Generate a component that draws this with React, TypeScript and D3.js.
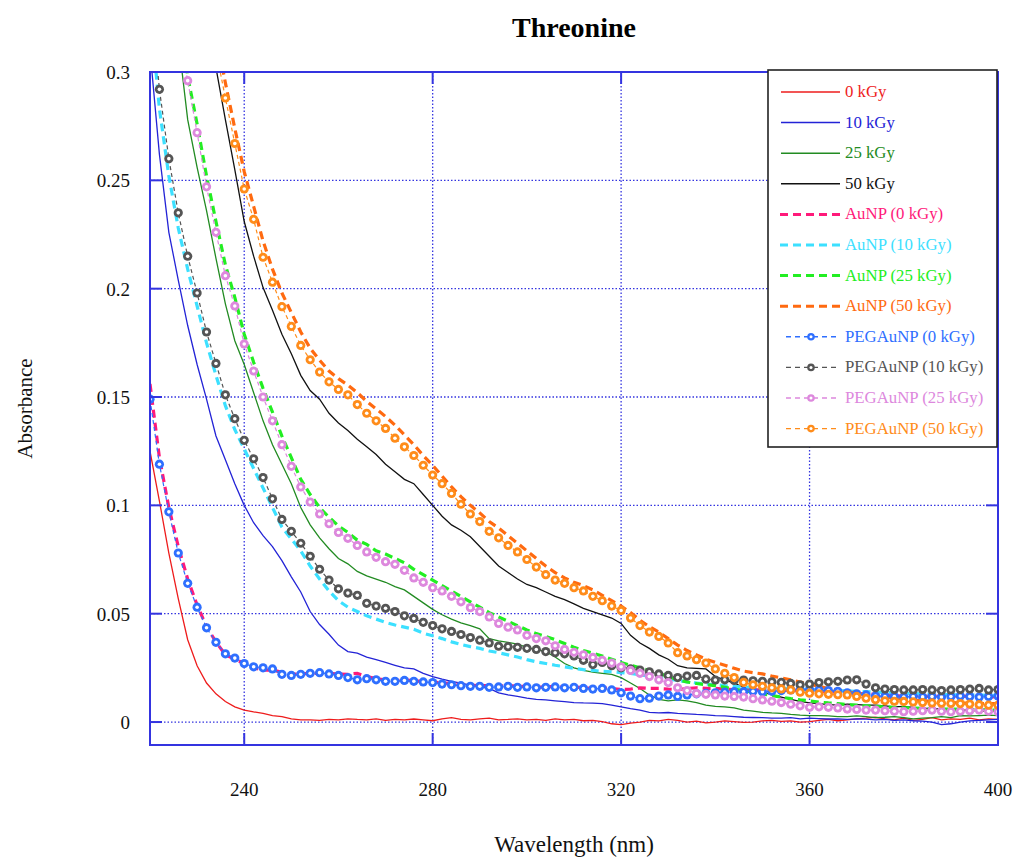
import React from 'react';
import * as d3 from 'd3';

// Wavelength grid (nm), 2 nm steps 220..400
const wavelengths: number[] = d3.range(220, 401, 2);

const kGy0 = [
  0.125,0.102,0.078,0.057,0.038,0.026,0.018,0.013,0.0095,0.007,
  0.0055,0.0047,0.004,0.003,0.0025,0.0015,0.001,0.001,0.0008,0.0012,
  0.001,0.0015,0.0012,0.001,0.0015,0.0008,0.0012,0.001,0.0014,0.001,
  0.0006,0.0015,0.002,0.0012,0.001,0.0015,0.0018,0.001,0.0012,0.0015,
  0.001,0.0012,0.0008,0.0015,0.001,0.0012,0.0006,0.0008,0.0002,-0.0008,
  -0.0012,-0.0005,0,0.0008,0.0005,0.0012,0.0008,0,0.0004,-0.0004,
  0,0.0005,0.0002,-0.0002,0,0.0005,0.0008,0.0003,0.0005,0,
  0.0002,0.0008,0.0012,0.0006,0.001,0.0015,0.0018,0.0022,0.0015,0.001,
  0.0018,0.0008,0.0012,0.002,0.001,0.0015,0.0012,0.0018,0.001,0.0015,
  0.0012];

const kGy10 = [
  0.31,0.262,0.226,0.204,0.183,0.165,0.149,0.132,0.121,0.110,
  0.100,0.092,0.086,0.081,0.0745,0.067,0.060,0.051,0.045,0.0405,
  0.0355,0.0325,0.0318,0.030,0.0288,0.0275,0.0262,0.025,0.0245,0.0225,
  0.021,0.0198,0.0188,0.018,0.017,0.0162,0.0155,0.0135,0.0125,0.0118,
  0.011,0.0105,0.0102,0.0098,0.0094,0.009,0.0088,0.0087,0.0085,0.0078,
  0.007,0.0062,0.0055,0.0045,0.0042,0.0044,0.004,0.0038,0.0035,0.0033,
  0.003,0.0028,0.0025,0.0022,0.0021,0.002,0.0018,0.0018,0.002,0.0015,
  0.0018,0.0016,0.0014,0.0015,0.0012,0.0015,0.0013,0.001,0.0012,0.0008,
  0.001,0.0006,0.0004,0,-0.0012,-0.0008,0,0.0005,0.0008,0.001,
  0.0012];

const kGy25 = [
  0.40,0.37,0.34,0.315,0.278,0.256,0.236,0.214,0.193,0.176,
  0.165,0.152,0.139,0.128,0.119,0.110,0.099,0.091,0.085,0.080,
  0.0755,0.073,0.0695,0.0675,0.066,0.0645,0.0625,0.061,0.058,0.055,
  0.052,0.0495,0.0475,0.0458,0.0445,0.043,0.0385,0.0375,0.0368,0.036,
  0.0345,0.0335,0.0325,0.030,0.027,0.025,0.0238,0.023,0.0225,0.022,
  0.0205,0.018,0.0155,0.0125,0.0105,0.0098,0.0102,0.0098,0.009,0.0078,
  0.0072,0.007,0.0065,0.0055,0.005,0.0045,0.0042,0.004,0.0035,0.0032,
  0.003,0.003,0.0028,0.0025,0.0025,0.0028,0.0025,0.002,0.0022,0.0025,
  0.002,0.0015,0.0018,0.002,0.0025,0.002,0.003,0.0028,0.003,0.0032,
  0.003];

const kGy50 = [
  0.56,0.52,0.48,0.44,0.40,0.365,0.33,0.302,0.278,0.255,
  0.231,0.215,0.2005,0.190,0.179,0.170,0.160,0.153,0.149,0.1425,
  0.138,0.1345,0.1305,0.127,0.1235,0.119,0.1155,0.112,0.110,0.105,
  0.100,0.095,0.091,0.0885,0.0855,0.081,0.0765,0.072,0.069,0.066,
  0.0635,0.062,0.060,0.058,0.0565,0.0545,0.0525,0.051,0.0495,0.048,
  0.0455,0.040,0.0365,0.034,0.031,0.029,0.026,0.025,0.0248,0.0245,
  0.021,0.0195,0.018,0.016,0.015,0.014,0.0125,0.0115,0.0105,0.0095,
  0.0088,0.0085,0.008,0.0078,0.0082,0.008,0.0078,0.0078,0.0075,0.007,
  0.0072,0.0068,0.0065,0.006,0.0062,0.0058,0.0055,0.0055,0.005,0.0052,
  0.005];

const auNP0 = [
  0.156,0.122,0.099,0.081,0.066,0.054,0.044,0.037,0.031,0.029,
  0.027,0.025,0.024,0.024,0.023,0.022,0.0222,0.0225,0.0225,0.0225,
  0.0222,0.022,0.0225,0.021,0.020,0.0195,0.019,0.0195,0.019,0.0188,
  0.0185,0.018,0.0178,0.0172,0.017,0.0168,0.0168,0.0165,0.0168,0.0165,
  0.0165,0.016,0.0162,0.0165,0.016,0.0162,0.0158,0.0155,0.0158,0.0155,
  0.015,0.0152,0.0158,0.0155,0.0155,0.0152,0.015,0.0155,0.0158,0.0155,
  0.0155,0.0152,0.015,0.015,0.0148,0.0148,0.0145,0.0145,0.0148,0.0145,
  0.0145,0.0142,0.014,0.0138,0.0135,0.0132,0.013,0.0128,0.0125,0.0122,
  0.012,0.0122,0.012,0.0118,0.012,0.0122,0.0118,0.012,0.0118,0.0115,
  0.0118];

const auNP10 = [
  0.33,0.283,0.252,0.228,0.209,0.192,0.175,0.160,0.146,0.135,
  0.126,0.117,0.108,0.099,0.09,0.0845,0.079,0.072,0.066,0.0605,
  0.056,0.053,0.051,0.049,0.0475,0.046,0.0448,0.0438,0.0428,0.041,
  0.0398,0.0385,0.037,0.0358,0.0348,0.034,0.0328,0.032,0.031,0.030,
  0.0288,0.0278,0.027,0.0262,0.0255,0.0248,0.0242,0.0238,0.0234,0.0232,
  0.0228,0.0224,0.0218,0.0212,0.0205,0.0198,0.0192,0.0185,0.018,0.0175,
  0.0172,0.0168,0.0165,0.0162,0.016,0.0158,0.0157,0.0155,0.0155,0.0152,
  0.015,0.0148,0.0146,0.0145,0.0143,0.0142,0.014,0.0138,0.0136,0.0135,
  0.0133,0.0132,0.013,0.0128,0.0127,0.0126,0.0125,0.0124,0.0124,0.0123,
  0.0122];

const auNP25 = [
  0.44,0.40,0.365,0.33,0.298,0.276,0.252,0.231,0.211,0.196,
  0.179,0.166,0.154,0.143,0.132,0.122,0.112,0.105,0.099,0.0945,
  0.0905,0.0875,0.084,0.082,0.079,0.0775,0.0755,0.0735,0.0705,0.068,
  0.0655,0.063,0.0605,0.058,0.0555,0.053,0.0505,0.0485,0.0465,0.0445,
  0.0425,0.0408,0.0395,0.038,0.0362,0.0345,0.033,0.0318,0.0305,0.029,
  0.0275,0.0262,0.025,0.0238,0.0225,0.021,0.0195,0.0185,0.0178,0.0172,
  0.0168,0.016,0.0152,0.0145,0.0138,0.013,0.0122,0.0115,0.0108,0.0102,
  0.0098,0.0092,0.0088,0.0085,0.008,0.0078,0.0075,0.0072,0.007,0.0068,
  0.0066,0.0065,0.0063,0.0062,0.006,0.006,0.0058,0.0058,0.0057,0.0056,
  0.0055];

const auNP50 = [
  0.54,0.50,0.465,0.43,0.40,0.37,0.343,0.318,0.295,0.274,
  0.254,0.238,0.222,0.209,0.198,0.189,0.180,0.1725,0.167,0.162,
  0.1585,0.1555,0.152,0.148,0.1445,0.141,0.137,0.1325,0.128,0.123,
  0.1185,0.1135,0.1085,0.104,0.100,0.0965,0.0925,0.0895,0.086,0.0825,
  0.079,0.0755,0.072,0.069,0.0665,0.0645,0.063,0.061,0.0585,0.056,
  0.0535,0.0505,0.047,0.044,0.0415,0.0385,0.0355,0.033,0.031,0.029,
  0.0275,0.0262,0.0248,0.0235,0.0228,0.0222,0.0212,0.0204,0.0195,0.0185,
  0.0175,0.0165,0.0155,0.0148,0.014,0.0132,0.0125,0.012,0.0115,0.011,
  0.0105,0.0102,0.0098,0.0095,0.0092,0.009,0.0088,0.0087,0.0086,0.0085,
  0.0085];

const pegAuNP0 = [
  0.149,0.119,0.097,0.078,0.064,0.053,0.0435,0.0368,0.0315,0.0295,
  0.027,0.0255,0.025,0.0245,0.022,0.0215,0.022,0.0225,0.0228,0.0222,
  0.0215,0.0205,0.0195,0.020,0.0195,0.0188,0.0188,0.0192,0.0188,0.0185,
  0.0182,0.0175,0.0172,0.0168,0.0165,0.0165,0.016,0.0162,0.0165,0.016,
  0.0162,0.0158,0.016,0.0162,0.0158,0.016,0.0155,0.0152,0.0155,0.0148,
  0.0135,0.012,0.0108,0.011,0.012,0.0125,0.0118,0.0125,0.013,0.0132,
  0.0135,0.0138,0.014,0.014,0.0142,0.014,0.0142,0.0145,0.0148,0.0148,
  0.015,0.0148,0.0145,0.0142,0.0135,0.013,0.0125,0.012,0.0118,0.0118,
  0.0115,0.0118,0.0116,0.0118,0.0115,0.0118,0.012,0.0118,0.0115,0.0118,
  0.012];

const pegAuNP10 = [
  0.34,0.292,0.26,0.235,0.215,0.198,0.180,0.1655,0.151,0.140,
  0.130,0.1215,0.1128,0.103,0.0935,0.088,0.0825,0.0765,0.0705,0.0655,
  0.0615,0.0595,0.0585,0.0548,0.0535,0.0525,0.051,0.049,0.0478,0.046,
  0.0445,0.043,0.0418,0.0404,0.039,0.0378,0.0365,0.035,0.0348,0.0345,
  0.034,0.0335,0.0325,0.032,0.0315,0.0305,0.0285,0.0265,0.0275,0.026,
  0.025,0.0245,0.024,0.0232,0.0222,0.0215,0.0205,0.0212,0.0215,0.0198,
  0.0194,0.0195,0.0192,0.0194,0.019,0.0188,0.0186,0.0183,0.0178,0.0172,
  0.0175,0.0182,0.0186,0.0188,0.0194,0.0195,0.0175,0.0158,0.0152,0.015,
  0.0148,0.0148,0.015,0.0148,0.0145,0.0148,0.015,0.0152,0.0155,0.0148,
  0.015];

const pegAuNP25 = [
  0.42,0.385,0.35,0.32,0.296,0.272,0.247,0.226,0.206,0.192,
  0.1745,0.162,0.150,0.139,0.128,0.118,0.1085,0.1015,0.096,0.0915,
  0.0875,0.0848,0.0815,0.0785,0.076,0.074,0.0728,0.070,0.0665,0.0645,
  0.062,0.0605,0.058,0.0555,0.0528,0.051,0.0485,0.0455,0.0438,0.0425,
  0.040,0.0385,0.0375,0.0352,0.0335,0.0322,0.031,0.0298,0.0285,0.0272,
  0.0255,0.0238,0.0225,0.021,0.0195,0.0182,0.0158,0.0145,0.0132,0.0128,
  0.0125,0.012,0.0118,0.0115,0.0108,0.0102,0.0096,0.009,0.0082,0.0075,
  0.0068,0.007,0.0068,0.0065,0.006,0.0058,0.0055,0.0055,0.0052,0.005,
  0.0048,0.005,0.0052,0.0055,0.005,0.0048,0.005,0.0052,0.0055,0.005,
  0.0048];

const pegAuNP50 = [
  0.52,0.48,0.445,0.41,0.38,0.35,0.325,0.31,0.288,0.267,
  0.246,0.232,0.2145,0.203,0.1917,0.1826,0.1738,0.1672,0.1615,0.157,
  0.1535,0.151,0.1465,0.1425,0.139,0.1355,0.131,0.127,0.123,0.1185,
  0.114,0.110,0.1055,0.1005,0.096,0.0925,0.088,0.085,0.0815,0.0785,
  0.075,0.0715,0.068,0.0655,0.064,0.062,0.0605,0.058,0.056,0.0535,
  0.0515,0.048,0.0445,0.0415,0.0395,0.0365,0.032,0.0305,0.0288,0.0272,
  0.0245,0.0225,0.0205,0.0183,0.0172,0.0165,0.0158,0.0153,0.0148,0.0138,
  0.0133,0.013,0.0128,0.0126,0.0125,0.0118,0.011,0.0103,0.0098,0.0096,
  0.0095,0.0093,0.009,0.0088,0.0087,0.0086,0.0085,0.0083,0.008,0.0078,
  0.0078];

const seriesNames = [
  '0 kGy', '10 kGy', '25 kGy', '50 kGy',
  'AuNP (0 kGy)', 'AuNP (10 kGy)', 'AuNP (25 kGy)', 'AuNP (50 kGy)',
  'PEGAuNP (0 kGy)', 'PEGAuNP (10 kGy)', 'PEGAuNP (25 kGy)', 'PEGAuNP (50 kGy)',
];
const seriesValues = [
  kGy0, kGy10, kGy25, kGy50,
  auNP0, auNP10, auNP25, auNP50,
  pegAuNP0, pegAuNP10, pegAuNP25, pegAuNP50,
];

const xTicks = [240, 280, 320, 360, 400];
const yTicks = [0, 0.05, 0.1, 0.15, 0.2, 0.25, 0.3];
const yTickLabels = ['0', '0.05', '0.1', '0.15', '0.2', '0.25', '0.3'];

// styles
const seriesStyles = [
  { color: '#ee1c1c', kind: 'solid' },
  { color: '#2323d6', kind: 'solid' },
  { color: '#228b22', kind: 'solid' },
  { color: '#111111', kind: 'solid' },
  { color: '#ff1a7a', kind: 'dash' },
  { color: '#3ce0ff', kind: 'dash' },
  { color: '#22ee22', kind: 'dash' },
  { color: '#ff6a10', kind: 'dash' },
  { color: '#2f6fff', kind: 'marker' },
  { color: '#555555', kind: 'marker' },
  { color: '#dd88dd', kind: 'marker' },
  { color: '#ff8c1a', kind: 'marker' },
];

const W = 1015, H = 860;
const M = { left: 150, right: 998, top: 72, bottom: 745 };
const FRAME = '#3434e0';
const FONT = '"Liberation Serif", "Times New Roman", serif';

export default function App() {
  const x = d3.scaleLinear().domain([220, 400]).range([M.left, M.right]);
  const y = d3.scaleLinear().domain([-0.0106, 0.3]).range([M.bottom, M.top]);
  const line = d3.line<[number, number]>().x(d => x(d[0])).y(d => y(d[1]));

  const order = [0, 1, 2, 3, 4, 5, 6, 7, 8, 9, 10, 11];

  const legendX = 768, legendY = 70, legendW = 229, legendH = 377;
  const rowY = (i: number) => 92 + i * 30.6;

  return (
    <svg width={W} height={H} style={{ position: 'absolute', left: 0, top: 0, background: '#fff' }}
      fontFamily={FONT}>
      <defs>
        <clipPath id="plotClip">
          <rect x={M.left} y={M.top} width={M.right - M.left} height={M.bottom - M.top} />
        </clipPath>
      </defs>
      <rect x={0} y={0} width={W} height={H} fill="#fff" />

      {/* title */}
      <text x={(M.left + M.right) / 2} y={37} textAnchor="middle" fontWeight="bold" fontSize={28} fill="#000">Threonine</text>

      {/* grid */}
      <g stroke={FRAME} strokeWidth={1.3} strokeDasharray="1.5,2">
        {xTicks.filter(t => t < 400).map(t => (
          <line key={'gx' + t} x1={x(t)} x2={x(t)} y1={M.top} y2={M.bottom} />
        ))}
        {yTicks.filter(t => t < 0.3).map(t => (
          <line key={'gy' + t} x1={M.left} x2={M.right} y1={y(t)} y2={y(t)} />
        ))}
      </g>

      {/* series */}
      <g clipPath="url(#plotClip)">
        {order.map(i => {
          const st = seriesStyles[i];
          const pts: [number, number][] = wavelengths.map((w, k) => [w, seriesValues[i][k]]);
          if (st.kind === 'solid') {
            return <path key={i} d={line(pts) || ''} fill="none" stroke={st.color} strokeWidth={1.3} />;
          }
          if (st.kind === 'dash') {
            return <path key={i} d={line(pts) || ''} fill="none" stroke={st.color} strokeWidth={3.2} strokeDasharray="8,5" />;
          }
          return (
            <g key={i}>
              <path d={line(pts) || ''} fill="none" stroke={st.color} strokeWidth={1.2} strokeDasharray="4,3" />
              {pts.map((p, k) => (
                <g key={k}>
                  <circle cx={x(p[0])} cy={y(p[1])} r={4.6} fill={st.color} />
                  <circle cx={x(p[0])} cy={y(p[1])} r={1.8} fill="#fff" />
                </g>
              ))}
            </g>
          );
        })}
      </g>

      {/* frame */}
      <rect x={M.left} y={M.top} width={M.right - M.left} height={M.bottom - M.top} fill="none" stroke={FRAME} strokeWidth={2} />

      {/* ticks */}
      <g stroke={FRAME} strokeWidth={2}>
        {yTicks.map(t => (
          <g key={'ty' + t}>
            <line x1={M.left} x2={M.left + 12} y1={y(t)} y2={y(t)} />
            <line x1={M.right} x2={M.right - 12} y1={y(t)} y2={y(t)} />
          </g>
        ))}
        {xTicks.map(t => (
          <g key={'tx' + t}>
            <line x1={x(t)} x2={x(t)} y1={M.bottom} y2={M.bottom - 12} />
            <line x1={x(t)} x2={x(t)} y1={M.top} y2={M.top + 12} />
          </g>
        ))}
      </g>

      {/* tick labels */}
      <g fontSize={19} fill="#111">
        {yTicks.map((t, i) => (
          <text key={'ly' + t} x={130} y={y(t) + 7} textAnchor="end">{yTickLabels[i]}</text>
        ))}
        {xTicks.map(t => (
          <text key={'lx' + t} x={x(t)} y={796} textAnchor="middle">{String(t)}</text>
        ))}
      </g>

      {/* axis titles */}
      <text x={(M.left + M.right) / 2} y={852} textAnchor="middle" fontSize={23} fill="#111">Wavelength (nm)</text>
      <text transform={`translate(32,${(M.top + M.bottom) / 2}) rotate(-90)`} textAnchor="middle" fontSize={21} fill="#111">Absorbance</text>

      {/* legend */}
      <g>
        <rect x={legendX} y={legendY} width={legendW} height={legendH} fill="#fff" stroke="#222" strokeWidth={1.6} />
        {seriesNames.map((name, i) => {
          const st = seriesStyles[i];
          const ly = rowY(i);
          let sym: React.ReactNode;
          if (st.kind === 'solid') {
            sym = <line x1={781} x2={840} y1={ly} y2={ly} stroke={st.color} strokeWidth={1.5} />;
          } else if (st.kind === 'dash') {
            sym = <line x1={780} x2={840} y1={ly} y2={ly} stroke={st.color} strokeWidth={3} strokeDasharray="8,5" />;
          } else {
            sym = (
              <g>
                <line x1={786} x2={838} y1={ly} y2={ly} stroke={st.color} strokeWidth={1.4} strokeDasharray="5,4" />
                <circle cx={811} cy={ly} r={3.8} fill={st.color} />
                <circle cx={811} cy={ly} r={1.5} fill="#fff" />
              </g>
            );
          }
          return (
            <g key={name}>
              {sym}
              <text x={845} y={ly + 5} fontSize={16.8} fill={st.color}>{name}</text>
            </g>
          );
        })}
      </g>
    </svg>
  );
}
